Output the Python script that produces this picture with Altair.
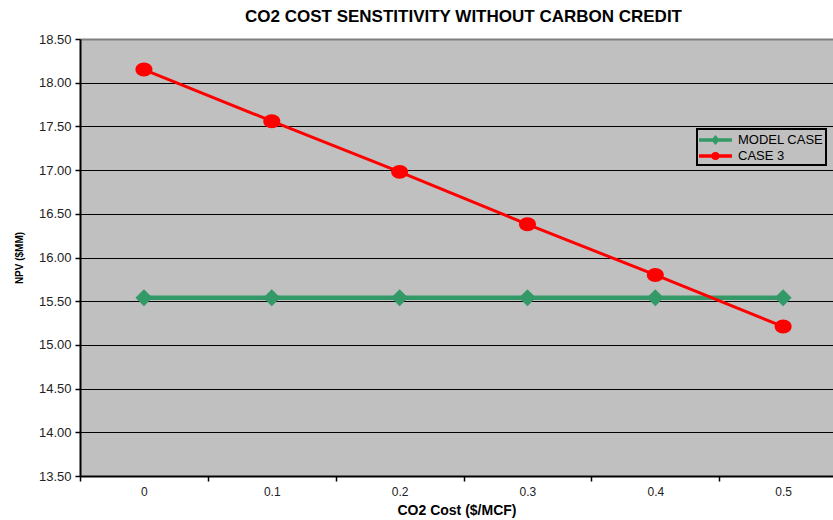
import altair as alt
import pandas as pd

# ---- data ----
co2_cost = [0.0, 0.1, 0.2, 0.3, 0.4, 0.5]
model_case = [15.54, 15.54, 15.54, 15.54, 15.54, 15.54]
case_3 = [18.15, 17.56, 16.98, 16.38, 15.80, 15.21]
series_names = ["MODEL CASE", "CASE 3"]
series_colors = ["#339966", "#FF0000"]
x_label_values = [0.0, 0.1, 0.2, 0.3, 0.4, 0.5]
x_tick_values = [-0.05, 0.05, 0.15, 0.25, 0.35, 0.45]
y_tick_values = [13.5, 14.0, 14.5, 15.0, 15.5, 16.0, 16.5, 17.0, 17.5, 18.0, 18.5]

rows = []
for x, v in zip(co2_cost, model_case):
    rows.append({"x": x, "npv": v, "series": "MODEL CASE"})
for x, v in zip(co2_cost, case_3):
    rows.append({"x": x, "npv": v, "series": "CASE 3"})
df = pd.DataFrame(rows)
df["legend"] = df["series"]

FONT = "Liberation Sans"
x_scale = alt.Scale(domain=[-0.05, 0.539], nice=False, zero=False)
y_scale = alt.Scale(domain=[13.5, 18.5], nice=False, zero=False)

x_main = alt.X("x:Q", scale=x_scale,
               axis=alt.Axis(values=x_label_values, format="~g", ticks=False, tickSize=0,
                             grid=False, domainColor="black", domainWidth=2,
                             labelPadding=10, labelFontSize=12, labelColor="#222",
                             labelFont=FONT, title="CO2 Cost ($/MCF)", titleFont=FONT,
                             titleFontSize=14, titleFontWeight="bold", titleColor="black",
                             titlePadding=6, orient="bottom"))
y_main = alt.Y("npv:Q", scale=y_scale,
               axis=alt.Axis(values=y_tick_values, format=".2f", grid=True,
                             gridColor=alt.condition("datum.value >= 18.5", alt.value("#808080"), alt.value("black")),
                             gridWidth=alt.condition("datum.value >= 18.5", alt.value(2), alt.value(1)),
                             tickColor="black", tickSize=5, tickWidth=1.5,
                             domainColor="black", domainWidth=2,
                             labelFont=FONT, labelFontSize=13, labelColor="#222", labelPadding=4,
                             title="NPV ($MM)", titleFont=FONT, titleFontSize=10,
                             titleFontWeight="bold", titleColor="black", titlePadding=14))

color_sc = alt.Scale(domain=series_names, range=series_colors)

base = alt.Chart(df)

lines = base.mark_line().encode(
    x=x_main, y=y_main,
    color=alt.Color("series:N", scale=color_sc, legend=None),
    strokeWidth=alt.StrokeWidth("series:N", scale=alt.Scale(domain=series_names, range=[4.5, 3]), legend=None),
    order=alt.Order("x:Q"),
)

ellipse_path = "M-1,0 A1,0.82 0 1,1 1,0 A1,0.82 0 1,1 -1,0 Z"

green_pts = base.transform_filter("datum.series == 'MODEL CASE'").mark_point(
    filled=True, opacity=1, shape="diamond", size=289).encode(
    x=alt.X("x:Q", axis=None), y=alt.Y("npv:Q"),
    color=alt.Color("series:N", scale=color_sc, legend=None))

red_pts = base.transform_filter("datum.series == 'CASE 3'").mark_point(
    filled=True, opacity=1, shape=ellipse_path, size=289).encode(
    x=alt.X("x:Q", axis=None), y=alt.Y("npv:Q"),
    color=alt.Color("series:N", scale=color_sc, legend=None))

# legend symbols: line with marker (unit = 9px, symbol centre at 0)
diamond_path = ("M-1,-0.2 L2.67,-0.2 L2.67,0.2 L-1,0.2 Z "
                "M0.83,-0.55 L1.3,0 L0.83,0.55 L0.36,0 Z")
circle_path = ("M-1,-0.2 L2.67,-0.2 L2.67,0.2 L-1,0.2 Z "
               "M0.33,0 A0.5,0.45 0 1,1 1.33,0 A0.5,0.45 0 1,1 0.33,0 Z")

leg = alt.Legend(title=None, orient="none", legendX=617, legendY=90,
                 strokeColor="black", fillColor="#C0C0C0",
                 padding=2, labelFont=FONT, labelFontSize=13,
                 labelColor="black", labelOffset=21, rowPadding=0,
                 symbolStrokeWidth=0, symbolSize=324,
                 labelExpr="datum.label + '\u00a0\u00a0\u00a0\u00a0\u00a0\u00a0'")

legend_layer = base.transform_filter("false").mark_point(filled=True, opacity=1, size=324).encode(
    x=alt.X("x:Q", scale=x_scale,
            axis=alt.Axis(values=x_tick_values, labels=False, ticks=True, tickSize=5,
                          tickColor="black", tickWidth=1.5, domain=False, grid=False,
                          title=None, orient="bottom")),
    color=alt.Color("legend:N", scale=alt.Scale(domain=series_names, range=series_colors), legend=leg),
    shape=alt.Shape("legend:N", scale=alt.Scale(domain=series_names, range=[diamond_path, circle_path]),
                    legend=leg),
)

chart = alt.layer(lines, green_pts, red_pts, legend_layer).resolve_scale(
    color="independent", shape="independent"
).resolve_axis(x="independent").properties(
    width=753, height=437,
    autosize=alt.AutoSizeParams(type="none"),
    padding={"left": 80, "top": 39, "right": 0, "bottom": 44},
    title=alt.Title("CO2 COST SENSTITIVITY WITHOUT CARBON CREDIT", font=FONT, fontSize=17,
                    fontWeight="bold", color="black", offset=7, anchor="middle", dx=7),
    background="white",
).configure_view(fill="#C0C0C0", stroke=None).configure_legend(strokeWidth=2)

chart.save("out.html", embed_options={"renderer": "svg", "actions": False})
